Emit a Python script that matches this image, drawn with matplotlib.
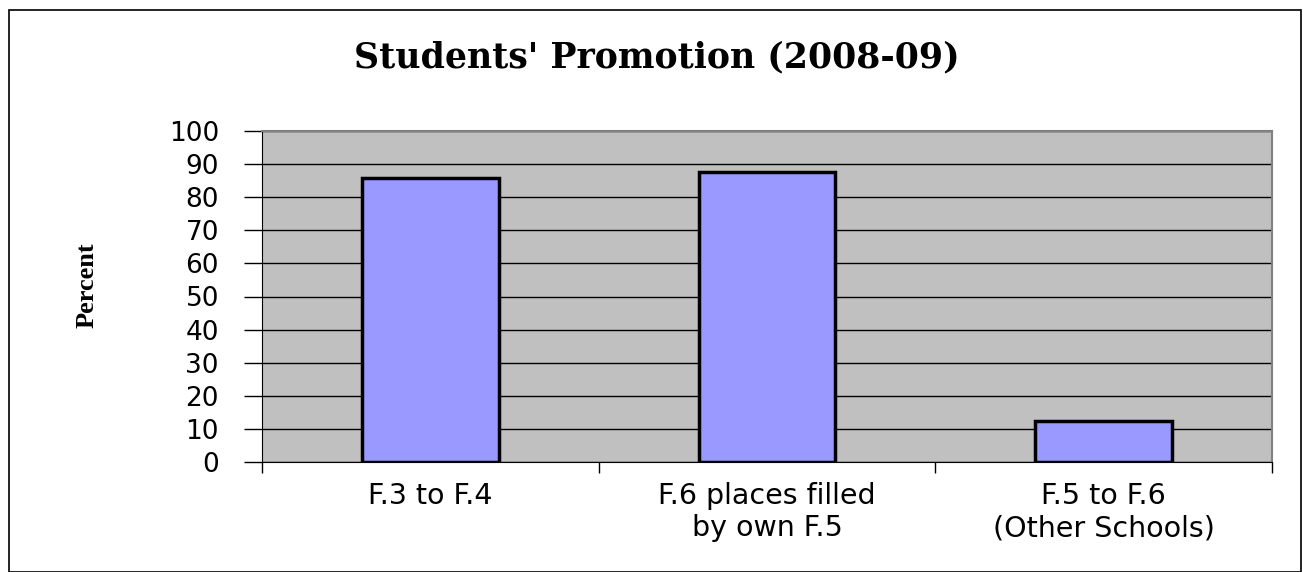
import matplotlib
matplotlib.use('Agg')
from matplotlib import pyplot as plt
from matplotlib.patches import Rectangle

# chart data
categories = ['F.3 to F.4', 'F.6 places filled\nby own F.5', 'F.5 to F.6\n(Other Schools)']
percents = [85.7, 87.5, 12.5]
y_ticks = [0, 10, 20, 30, 40, 50, 60, 70, 80, 90, 100]

fig = plt.figure(figsize=(13.03, 5.72), dpi=100)
# outer chart border
fig.patches.append(Rectangle((9 / 1303, 0), 1292 / 1303, 1 - 10 / 572,
                             transform=fig.transFigure, fill=False,
                             edgecolor='black', linewidth=1.2))

ax = fig.add_axes([262 / 1303, 1 - 462 / 572, 1010 / 1303, 331 / 572])
ax.set_facecolor('#C0C0C0')

x = list(range(len(categories)))
ax.bar(x, percents, width=0.405, color='#9999FF', edgecolor='black',
       linewidth=2.5, zorder=3)

ax.set_xlim(-0.5, len(categories) - 0.5)
ax.set_ylim(0, 100)
ax.set_yticks(y_ticks)
ax.set_yticklabels([str(v) for v in y_ticks], fontsize=19,
                   family='DejaVu Sans')
ax.yaxis.grid(True, color='black', linewidth=1.0, zorder=1)
ax.set_axisbelow(True)

# category labels centered, tick marks between categories
ax.set_xticks([i - 0.5 for i in range(len(categories) + 1)])
ax.set_xticklabels([''] * (len(categories) + 1))
ax.tick_params(axis='x', length=8, width=1, color='black')
ax.tick_params(axis='y', length=13, width=1, color='black', pad=18)
for i, lab in enumerate(categories):
    ax.text(i, -6.0, lab, ha='center', va='top', fontsize=20.5,
            family='DejaVu Sans', linespacing=1.2,
            transform=ax.transData)

for side in ['top', 'right']:
    ax.spines[side].set_color('#808080')
    ax.spines[side].set_linewidth(1.5)
ax.spines['left'].set_color('black')
ax.spines['bottom'].set_color('black')

fig.text(657 / 1303, 1 - 57 / 572, "Students' Promotion (2008-09)",
         ha='center', va='center', fontsize=25, fontweight='bold',
         family='DejaVu Serif')
fig.text(87 / 1303, 1 - 285 / 572, 'Percent', ha='center', va='center',
         rotation=90, fontsize=19, fontweight='bold',
         family='Liberation Serif')

fig.savefig('out.png', dpi=100)
